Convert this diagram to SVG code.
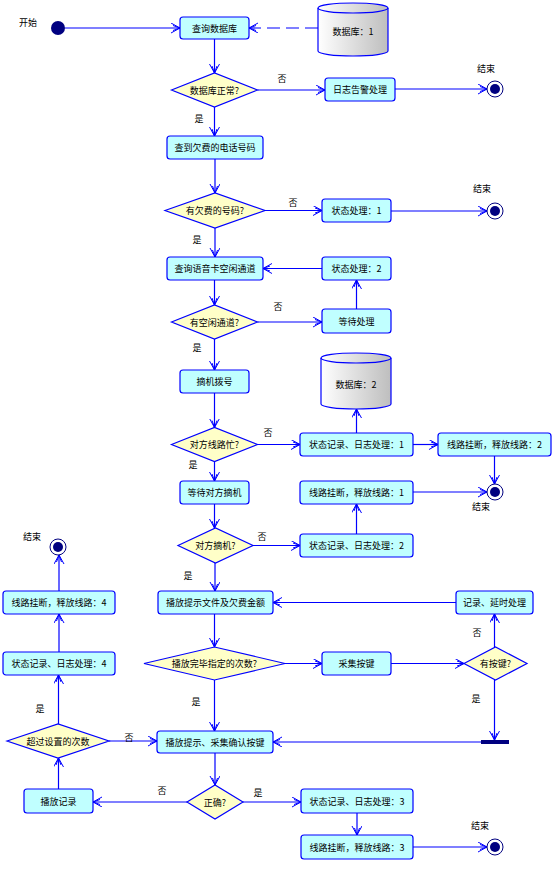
<svg xmlns="http://www.w3.org/2000/svg" width="553" height="873" viewBox="0 0 553 873">
<style>
text{font-family:"Noto Sans CJK SC","Liberation Sans",sans-serif;font-size:9px;fill:#000;text-anchor:middle}
.box{fill:#C0FFFF;stroke:#0000FF;stroke-width:1.2}
.dia{fill:#FFFFC8;stroke:#0000FF;stroke-width:1.2}
.ln{fill:none;stroke:#0000FF;stroke-width:1.2;marker-end:url(#arr)}
.dash{stroke-dasharray:13,6}
.cyl{fill:url(#g);stroke:#0000FF;stroke-width:1.2}
.endo{fill:#fff;stroke:#000080;stroke-width:1}
.endi{fill:#000080}
</style>
<defs>
<marker id="arr" markerUnits="userSpaceOnUse" markerWidth="12" markerHeight="12" refX="9" refY="5" orient="auto">
<path d="M0,0 L9,5 L0,10 M2,2.5 L9,5 L2,7.5" fill="none" stroke="#0000FF" stroke-width="1"/>
</marker>
<linearGradient id="g" x1="0" y1="0" x2="1" y2="0">
<stop offset="0" stop-color="#FFFFFF"/>
<stop offset="1" stop-color="#BEBEBE"/>
</linearGradient>
</defs>
<rect width="553" height="873" fill="#fff"/>
<g id="connectors">
<path class="ln" d="M65,28 H180"/>
<path class="ln dash" d="M318,28 H249"/>
<path class="ln" d="M214.5,39 V73"/>
<path class="ln" d="M257.5,90 H325"/>
<path class="ln" d="M395,89 H487"/>
<path class="ln" d="M214.5,107 V136"/>
<path class="ln" d="M215,159 V193"/>
<path class="ln" d="M265,210.5 H322"/>
<path class="ln" d="M391,211 H487"/>
<path class="ln" d="M215,228 V257"/>
<path class="ln" d="M322,268.5 H263"/>
<path class="ln" d="M214.5,280 V305"/>
<path class="ln" d="M257.5,322 H322"/>
<path class="ln" d="M356.5,309 V280"/>
<path class="ln" d="M214.5,339 V370"/>
<path class="ln" d="M214.5,393 V427.5"/>
<path class="ln" d="M257.5,444.5 H300"/>
<path class="ln" d="M356.5,433 V409"/>
<path class="ln" d="M413,444.5 H438"/>
<path class="ln" d="M494.5,456 V484"/>
<path class="ln" d="M214.5,461.5 V481"/>
<path class="ln" d="M413,492 H487"/>
<path class="ln" d="M214.5,504 V528"/>
<path class="ln" d="M253,545.5 H300"/>
<path class="ln" d="M356.5,534 V504"/>
<path class="ln" d="M215,563 V591"/>
<path class="ln" d="M456,602.5 H273"/>
<path class="ln" d="M214.5,614 V647"/>
<path class="ln" d="M285,663.5 H322"/>
<path class="ln" d="M391,663.5 H464"/>
<path class="ln" d="M494.5,647 V614"/>
<path class="ln" d="M494.5,680 V740"/>
<path class="ln" d="M481,742 H273"/>
<path class="ln" d="M214.5,680 V731"/>
<path class="ln" d="M215,753 V785"/>
<path class="ln" d="M187,802 H93"/>
<path class="ln" d="M243,802 H301"/>
<path class="ln" d="M357,813 V835"/>
<path class="ln" d="M413,847 H487"/>
<path class="ln" d="M58.5,789 V758"/>
<path class="ln" d="M109,741 H157"/>
<path class="ln" d="M58.5,724 V675"/>
<path class="ln" d="M59,652 V614"/>
<path class="ln" d="M59,591 V555"/>
</g>
<g id="labels">
<text x="28" y="26">开始</text>
<text x="282" y="82">否</text>
<text x="486" y="72">结束</text>
<text x="199" y="122">是</text>
<text x="293" y="206">否</text>
<text x="482" y="192">结束</text>
<text x="197" y="243">是</text>
<text x="278" y="310">否</text>
<text x="197" y="351">是</text>
<text x="268" y="436">否</text>
<text x="193" y="468">是</text>
<text x="481" y="510">结束</text>
<text x="262" y="540">否</text>
<text x="188" y="579">是</text>
<text x="32" y="540">结束</text>
<text x="477" y="636">否</text>
<text x="196" y="705">是</text>
<text x="476" y="702">是</text>
<text x="40" y="712">是</text>
<text x="129" y="741">否</text>
<text x="162" y="794">否</text>
<text x="258" y="796">是</text>
<text x="480" y="829">结束</text>
</g>
<g id="start"><circle cx="58" cy="28" r="7" fill="#000080"/></g>
<g id="n1"><rect class="box" x="180" y="17" width="69" height="22" rx="3"/><text x="214.5" y="31.5">查询数据库</text></g>
<g id="db1"><path class="cyl" d="M318,8 V51 A35,5 0 0 0 388,51 V8 A35,5 0 0 0 318,8 Z"/><path d="M318,8 A35,5 0 0 0 388,8" fill="none" stroke="#0000FF" stroke-width="1.2"/><text x="353" y="35">数据库：1</text></g>
<g id="d1"><polygon class="dia" points="171.5,90 214.5,73 257.5,90 214.5,107"/><text x="214.5" y="93.5">数据库正常?</text></g>
<g id="n2"><rect class="box" x="325" y="78" width="70" height="23" rx="3"/><text x="360" y="93">日志告警处理</text></g>
<g id="end1"><circle class="endo" cx="495" cy="89" r="8"/><circle class="endi" cx="495" cy="89" r="5"/></g>
<g id="n3"><rect class="box" x="167" y="136" width="96" height="23" rx="3"/><text x="215" y="151">查到欠费的电话号码</text></g>
<g id="d2"><polygon class="dia" points="165,210.5 215,193 265,210.5 215,228"/><text x="215" y="214">有欠费的号码?</text></g>
<g id="n4"><rect class="box" x="322" y="199" width="69" height="23" rx="3"/><text x="356.5" y="214">状态处理：1</text></g>
<g id="end2"><circle class="endo" cx="495" cy="211" r="8"/><circle class="endi" cx="495" cy="211" r="5"/></g>
<g id="n5"><rect class="box" x="167" y="257" width="96" height="23" rx="3"/><text x="215" y="272">查询语音卡空闲通道</text></g>
<g id="n6"><rect class="box" x="322" y="257" width="69" height="23" rx="3"/><text x="356.5" y="272">状态处理：2</text></g>
<g id="d3"><polygon class="dia" points="171.5,322 214.5,305 257.5,322 214.5,339"/><text x="214.5" y="325.5">有空闲通道?</text></g>
<g id="n7"><rect class="box" x="322" y="309" width="69" height="24" rx="3"/><text x="356.5" y="324.5">等待处理</text></g>
<g id="n8"><rect class="box" x="180" y="370" width="69" height="23" rx="3"/><text x="214.5" y="385">摘机拨号</text></g>
<g id="db2"><path class="cyl" d="M321,358 V404 A35,5 0 0 0 391,404 V358 A35,5 0 0 0 321,358 Z"/><path d="M321,358 A35,5 0 0 0 391,358" fill="none" stroke="#0000FF" stroke-width="1.2"/><text x="356" y="388">数据库：2</text></g>
<g id="d4"><polygon class="dia" points="171.5,444.5 214.5,427.5 257.5,444.5 214.5,461.5"/><text x="214.5" y="448">对方线路忙?</text></g>
<g id="n9"><rect class="box" x="300" y="433" width="113" height="23" rx="3"/><text x="356.5" y="448">状态记录、日志处理：1</text></g>
<g id="n10"><rect class="box" x="438" y="433" width="113" height="23" rx="3"/><text x="494.5" y="448">线路挂断，释放线路：2</text></g>
<g id="end3"><circle class="endo" cx="495" cy="492" r="8"/><circle class="endi" cx="495" cy="492" r="5"/></g>
<g id="n11"><rect class="box" x="180" y="481" width="69" height="23" rx="3"/><text x="214.5" y="496">等待对方摘机</text></g>
<g id="n12"><rect class="box" x="300" y="481" width="113" height="23" rx="3"/><text x="356.5" y="496">线路挂断，释放线路：1</text></g>
<g id="d5"><polygon class="dia" points="178,545.5 215.5,528 253,545.5 215.5,563"/><text x="215.5" y="549">对方摘机?</text></g>
<g id="n13"><rect class="box" x="300" y="534" width="113" height="23" rx="3"/><text x="356.5" y="549">状态记录、日志处理：2</text></g>
<g id="n14"><rect class="box" x="158" y="591" width="115" height="23" rx="3"/><text x="215.5" y="606">播放提示文件及欠费金额</text></g>
<g id="n15"><rect class="box" x="456" y="591" width="77" height="23" rx="3"/><text x="494.5" y="606">记录、延时处理</text></g>
<g id="end4"><circle class="endo" cx="58" cy="547" r="8"/><circle class="endi" cx="58" cy="547" r="5"/></g>
<g id="n16"><rect class="box" x="3" y="591" width="112" height="23" rx="3"/><text x="59" y="606">线路挂断，释放线路：4</text></g>
<g id="n17"><rect class="box" x="3" y="652" width="112" height="23" rx="3"/><text x="59" y="667">状态记录、日志处理：4</text></g>
<g id="d6"><polygon class="dia" points="144,663.5 214.5,647 285,663.5 214.5,680"/><text x="214.5" y="667">播放完毕指定的次数?</text></g>
<g id="n18"><rect class="box" x="322" y="652" width="69" height="23" rx="3"/><text x="356.5" y="667">采集按键</text></g>
<g id="d7"><polygon class="dia" points="464,663.5 495.5,647 527,663.5 495.5,680"/><text x="495.5" y="667">有按键?</text></g>
<g id="d8"><polygon class="dia" points="7,741 58,724 109,741 58,758"/><text x="58" y="744.5">超过设置的次数</text></g>
<g id="n19"><rect class="box" x="157" y="731" width="116" height="22" rx="3"/><text x="215" y="745.5">播放提示、采集确认按键</text></g>
<g id="bar"><rect x="481" y="740" width="28" height="4" fill="#000080"/></g>
<g id="d9"><polygon class="dia" points="187,802 215,785 243,802 215,819"/><text x="215" y="805.5">正确?</text></g>
<g id="n20"><rect class="box" x="24" y="789" width="69" height="24" rx="3"/><text x="58.5" y="804.5">播放记录</text></g>
<g id="n21"><rect class="box" x="301" y="789" width="112" height="24" rx="3"/><text x="357" y="804.5">状态记录、日志处理：3</text></g>
<g id="n22"><rect class="box" x="301" y="835" width="112" height="24" rx="3"/><text x="357" y="850.5">线路挂断，释放线路：3</text></g>
<g id="end5"><circle class="endo" cx="495" cy="847" r="8"/><circle class="endi" cx="495" cy="847" r="5"/></g>
</svg>
